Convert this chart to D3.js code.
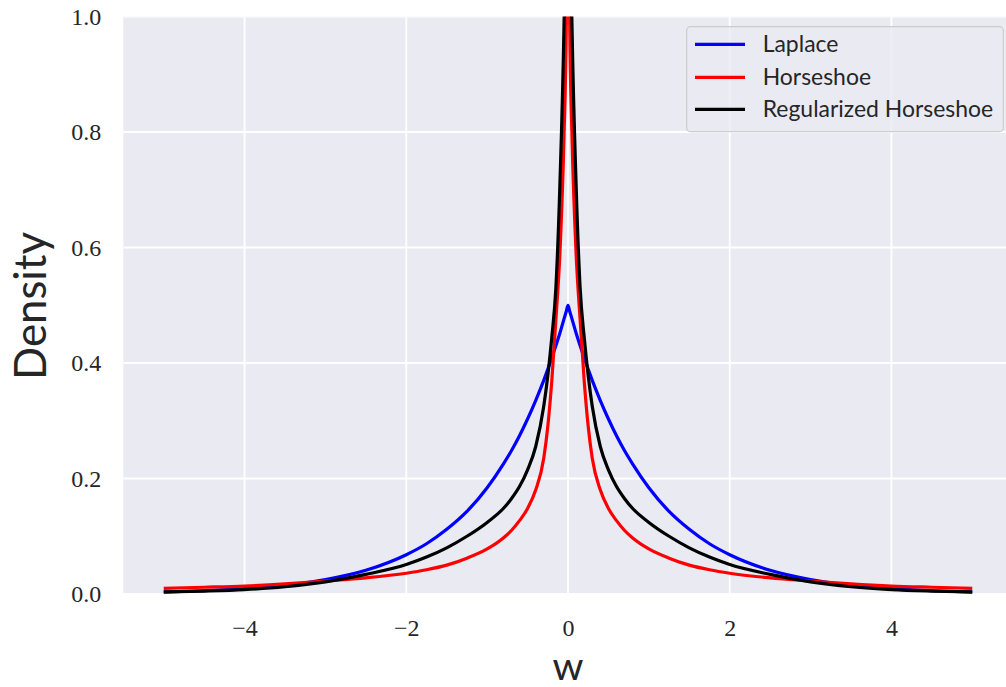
<!DOCTYPE html>
<html>
<head>
<meta charset="utf-8">
<script src="https://cdn.jsdelivr.net/npm/d3@7"></script>
<style>
  html, body { margin: 0; padding: 0; background: #ffffff; }
  svg { display: block; }
</style>
</head>
<body>
<svg id="chart" width="1006" height="687"></svg>
<script>
// ---- data (symmetric about w = 0) ----
const wPos = [0, 0.02, 0.05, 0.1, 0.15, 0.2, 0.25, 0.3, 0.4, 0.5, 0.6, 0.7, 0.8, 1.0, 1.25, 1.5, 1.75, 2.0, 2.5, 3.0, 3.5, 4.0, 4.5, 5.0];
const laplacePos = [0.5, 0.490, 0.476, 0.452, 0.430, 0.409, 0.389, 0.370, 0.335, 0.303, 0.274, 0.248, 0.225, 0.184, 0.143, 0.112, 0.087, 0.068, 0.041, 0.025, 0.015, 0.0092, 0.0056, 0.0034];
const horseshoePos = [3.0, 1.0, 0.79, 0.59, 0.475, 0.37, 0.29, 0.235, 0.18, 0.148, 0.127, 0.110, 0.097, 0.078, 0.062, 0.050, 0.042, 0.036, 0.028, 0.0225, 0.0175, 0.0138, 0.0117, 0.0099];
const regHorseshoePos = [3.0, 1.25, 0.98, 0.71, 0.53, 0.445, 0.378, 0.325, 0.255, 0.215, 0.186, 0.165, 0.148, 0.124, 0.100, 0.080, 0.064, 0.051, 0.034, 0.021, 0.0125, 0.0075, 0.005, 0.0035];

const seriesNames = ["Laplace", "Horseshoe", "Regularized Horseshoe"];
const seriesColors = ["#0000ff", "#ff0000", "#000000"];
const xTicks = [-4, -2, 0, 2, 4];
const yTicks = [0.0, 0.2, 0.4, 0.6, 0.8, 1.0];
const xLabel = "w";
const yLabel = "Density";

// build full symmetric series
function mirror(xs, ys) {
  const pts = [];
  for (let i = xs.length - 1; i >= 1; i--) pts.push([-xs[i], ys[i]]);
  for (let i = 0; i < xs.length; i++) pts.push([xs[i], ys[i]]);
  return pts;
}
const series = [laplacePos, horseshoePos, regHorseshoePos].map((ys, i) => ({
  name: seriesNames[i], color: seriesColors[i], points: mirror(wPos, ys)
}));

// ---- layout ----
const svg = d3.select("#chart");
const plot = { left: 123.3, right: 1012.7, top: 16.5, bottom: 594 };

const x = d3.scaleLinear().domain([-5.5, 5.5]).range([plot.left, plot.right]);
const y = d3.scaleLinear().domain([0, 1]).range([plot.bottom, plot.top]);

svg.append("defs").append("clipPath").attr("id", "clip")
  .append("rect").attr("x", plot.left).attr("y", plot.top)
  .attr("width", plot.right - plot.left).attr("height", plot.bottom - plot.top);

// background
svg.append("rect").attr("x", plot.left).attr("y", plot.top)
  .attr("width", plot.right - plot.left).attr("height", plot.bottom - plot.top)
  .attr("fill", "#EAEAF2");

// grid
const grid = svg.append("g").attr("clip-path", "url(#clip)");
grid.selectAll("line.gx").data(xTicks).join("line")
  .attr("x1", d => x(d)).attr("x2", d => x(d))
  .attr("y1", plot.top).attr("y2", plot.bottom)
  .attr("stroke", "#ffffff").attr("stroke-width", 1.8);
grid.selectAll("line.gy").data(yTicks).join("line")
  .attr("y1", d => y(d)).attr("y2", d => y(d))
  .attr("x1", plot.left).attr("x2", plot.right)
  .attr("stroke", "#ffffff").attr("stroke-width", 1.8);

// axes (ticks via d3 axes, no domain/tick lines)
const fmtX = d => (d < 0 ? "\u2212" + Math.abs(d) : String(d));
const xAxis = svg.append("g").attr("transform", `translate(0,${plot.bottom})`)
  .call(d3.axisBottom(x).tickValues(xTicks).tickFormat(fmtX).tickSize(0).tickPadding(25));
const yAxis = svg.append("g").attr("transform", `translate(${plot.left},0)`)
  .call(d3.axisLeft(y).tickValues(yTicks).tickFormat(d3.format(".1f")).tickSize(0).tickPadding(22));
[xAxis, yAxis].forEach(a => {
  a.select(".domain").remove();
  a.selectAll("text").attr("font-family", "'Liberation Serif', 'DejaVu Serif', serif")
    .attr("font-size", 24).attr("fill", "#262626");
});

// lines
const line = d3.line().x(d => x(d[0])).y(d => y(d[1])).curve(d3.curveMonotoneX);
const lines = svg.append("g").attr("clip-path", "url(#clip)");
lines.selectAll("path").data(series).join("path")
  .attr("d", d => line(d.points))
  .attr("fill", "none")
  .attr("stroke", d => d.color)
  .attr("stroke-width", 3.2)
  .attr("stroke-linejoin", "round")
  .attr("stroke-linecap", "butt");

// helper to fit text to a target width
function fitText(sel, targetWidth, startSize) {
  sel.attr("font-size", startSize);
  const w = sel.node().getComputedTextLength();
  sel.attr("font-size", startSize * targetWidth / w);
}

// axis labels
const xl = svg.append("text").text(xLabel)
  .attr("x", x(0)).attr("y", 680)
  .attr("text-anchor", "middle")
  .attr("font-family", "Lato, 'Open Sans', sans-serif")
  .attr("fill", "#262626");
fitText(xl, 31, 44);

const yl = svg.append("text").text(yLabel)
  .attr("transform", `translate(46,${(232 + 380) / 2}) rotate(-90)`)
  .attr("text-anchor", "middle")
  .attr("font-family", "Lato, 'Open Sans', sans-serif")
  .attr("fill", "#262626");
fitText(yl, 148, 42);

// legend
const lg = svg.append("g");
lg.append("rect")
  .attr("x", 686.7).attr("y", 26.7).attr("width", 316.6).attr("height", 105)
  .attr("rx", 4).attr("ry", 4)
  .attr("fill", "#EAEAF2").attr("fill-opacity", 0.8)
  .attr("stroke", "#cccccc").attr("stroke-width", 1.2);
const rowY = [44.3, 77.3, 109.3];
const items = lg.selectAll("g.item").data(series).join("g")
  .attr("transform", (d, i) => `translate(0,${rowY[i]})`);
items.append("line").attr("x1", 695).attr("x2", 745).attr("y1", 0).attr("y2", 0)
  .attr("stroke", d => d.color).attr("stroke-width", 3.2);
const texts = items.append("text").text(d => d.name)
  .attr("x", 762.7).attr("y", 0).attr("dy", "0.35em")
  .attr("font-family", "Lato, 'Open Sans', sans-serif")
  .attr("fill", "#262626");
// fit legend font so that the longest label spans the measured width
const longest = texts.filter((d, i) => i === 2);
longest.attr("font-size", 18);
const lw = longest.node().getComputedTextLength();
texts.attr("font-size", 18 * 230.6 / lw);
</script>
</body>
</html>
